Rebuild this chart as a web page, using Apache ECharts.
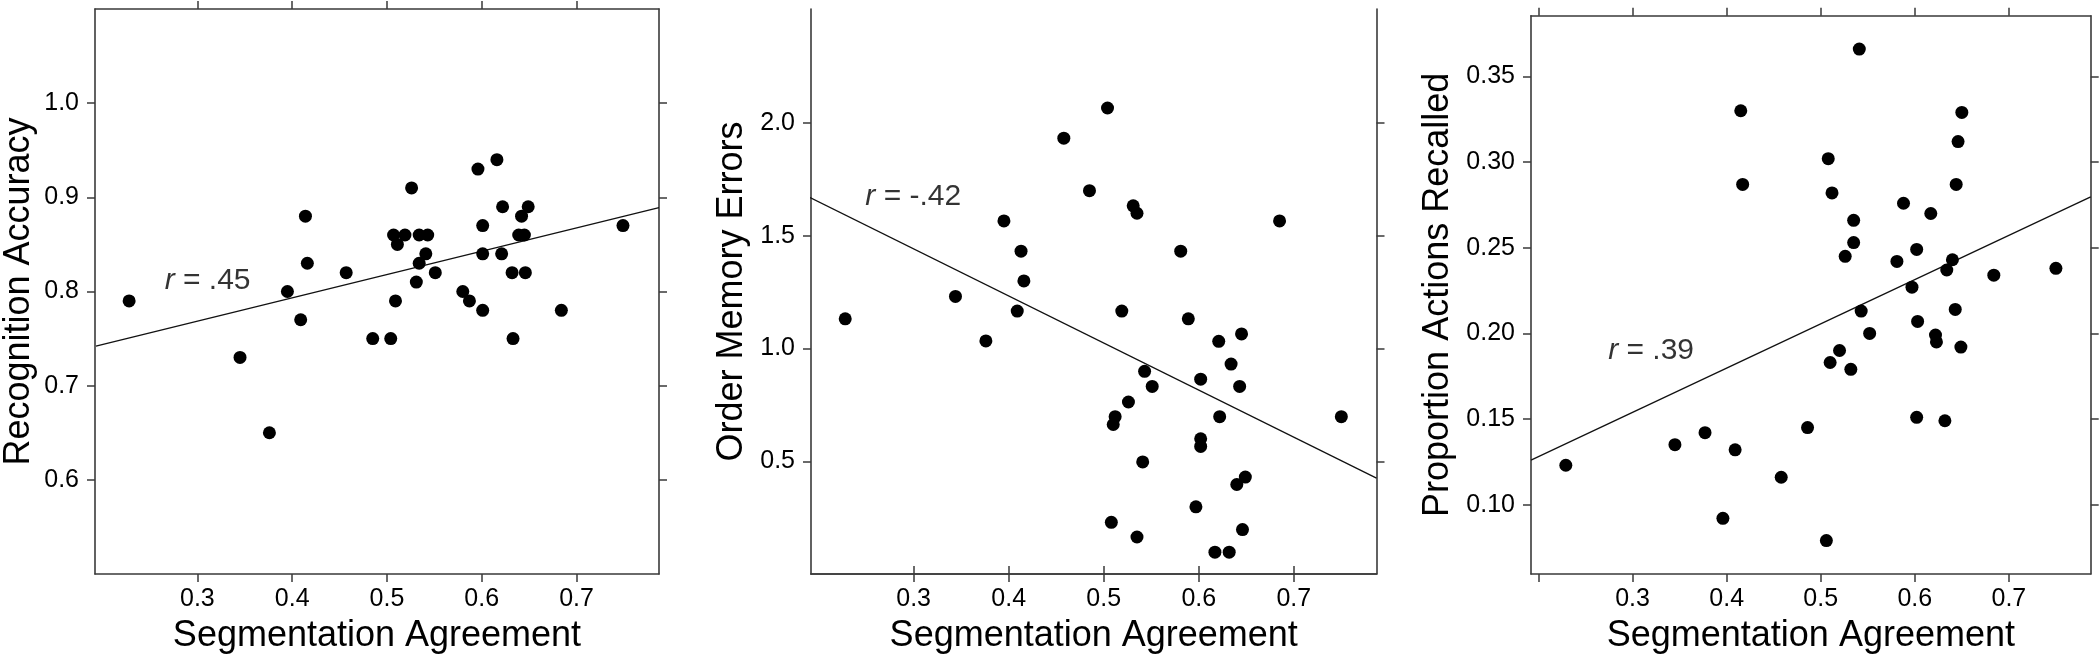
<!DOCTYPE html>
<html>
<head>
<meta charset="utf-8">
<script src="https://cdn.jsdelivr.net/npm/echarts@6/dist/echarts.min.js"></script>
<style>
html,body{margin:0;padding:0;background:#fff;}
#chart{width:2100px;height:659px;}
</style>
</head>
<body>
<div id="chart"></div>
<script>
// ---- data ----
const xTickValues = [0.3, 0.4, 0.5, 0.6, 0.7];
const xTickValues3 = [0.2, 0.3, 0.4, 0.5, 0.6, 0.7];
const yTicksRecog = [0.6, 0.7, 0.8, 0.9, 1.0];
const yTicksOrder = [0.5, 1.0, 1.5, 2.0];
const yTicksRecall = [0.10, 0.15, 0.20, 0.25, 0.30, 0.35];

const segRecog = [0.228,0.345,0.376,0.395,0.409,0.414,0.416,0.457,0.485,0.504,0.507,0.509,0.511,0.519,0.526,0.531,0.534,0.534,0.541,0.543,0.551,0.580,0.587,0.596,0.601,0.601,0.601,0.616,0.621,0.622,0.632,0.633,0.639,0.642,0.645,0.646,0.649,0.684,0.749];
const recogAccuracy = [0.79,0.73,0.65,0.80,0.77,0.88,0.83,0.82,0.75,0.75,0.86,0.79,0.85,0.86,0.91,0.81,0.86,0.83,0.84,0.86,0.82,0.80,0.79,0.93,0.78,0.87,0.84,0.94,0.84,0.89,0.82,0.75,0.86,0.88,0.86,0.82,0.89,0.78,0.87];

const segOrder = [0.228,0.344,0.376,0.395,0.409,0.413,0.416,0.458,0.485,0.504,0.508,0.510,0.512,0.519,0.526,0.531,0.535,0.535,0.541,0.543,0.551,0.581,0.589,0.597,0.602,0.602,0.602,0.617,0.621,0.622,0.632,0.634,0.640,0.643,0.645,0.646,0.649,0.685,0.750];
const orderErrors = [1.132,1.231,1.034,1.566,1.166,1.432,1.300,1.933,1.700,2.067,0.229,0.663,0.698,1.166,0.763,1.633,1.600,0.164,0.497,0.899,0.832,1.432,1.132,0.298,0.864,0.600,0.566,0.097,1.032,0.698,0.097,0.931,0.397,0.832,1.065,0.197,0.430,1.566,0.698];

const segRecall = [0.229,0.345,0.377,0.396,0.409,0.415,0.417,0.458,0.486,0.506,0.508,0.510,0.512,0.520,0.526,0.532,0.535,0.535,0.541,0.543,0.552,0.581,0.588,0.597,0.602,0.603,0.602,0.617,0.622,0.623,0.632,0.634,0.640,0.643,0.644,0.646,0.649,0.650,0.684,0.750];
const propRecalled = [0.123,0.135,0.142,0.092,0.132,0.330,0.287,0.116,0.145,0.079,0.302,0.183,0.282,0.190,0.245,0.179,0.266,0.253,0.366,0.213,0.200,0.242,0.276,0.227,0.249,0.207,0.151,0.270,0.199,0.195,0.149,0.237,0.243,0.214,0.287,0.312,0.192,0.329,0.234,0.238];

// fitted regression line endpoints [x, y]
const fitRecog = [[0.193, 0.742], [0.787, 0.889]];
const fitOrder = [[0.191, 1.670], [0.787, 0.425]];
const fitRecall = [[0.192, 0.126], [0.787, 0.2797]];

const rLabels = ['.45', '-.42', '.39'];
const xTitle = 'Segmentation Agreement';
const yTitles = ['Recognition Accuracy', 'Order Memory Errors', 'Proportion Actions Recalled'];

// ---- layout ----
const FONT = "'Liberation Sans', Arial, Helvetica, sans-serif";
const AX = '#3a3a3a';
const TITLE_FS = 36, TICK_FS = 25, ANN_FS = 30;
const panels = [
  {grid:{left:93.7, top:9, width:565.3, height:565}, x:segRecog, y:recogAccuracy, fit:fitRecog,
   ymin:0.5, ymax:1.1, yticks:yTicksRecog, dec:1, xt:xTickValues, ann:[0.2655, 0.8117], yGap:58},
  {grid:{left:811, top:9, width:565.5, height:565}, x:segOrder, y:orderErrors, fit:fitOrder,
   ymin:0.0, ymax:2.506, yticks:yTicksOrder, dec:1, xt:xTickValues, ann:[0.2492, 1.674], yGap:61},
  {grid:{left:1531, top:15.7, width:559.7, height:559.3}, x:segRecall, y:propRecalled, fit:fitRecall,
   ymin:0.0595, ymax:0.3855, yticks:yTicksRecall, dec:2, xt:xTickValues3, ann:[0.274, 0.190], yGap:75}
];
const XMIN = 0.192, XMAX = 0.787;

const grids = [], xAxes = [], yAxes = [], series = [];
panels.forEach((p, i) => {
  grids.push(Object.assign({containLabel:false}, p.grid));
  const line = {show:true, lineStyle:{color:AX, width:1.6}};
  const tick = (vals) => ({show:true, inside:false, length:8, customValues:vals, lineStyle:{color:AX, width:1.5}});
  xAxes.push({
    gridIndex:i, type:'value', position:'bottom', min:XMIN, max:XMAX,
    axisLine:line, axisTick:tick(p.xt), splitLine:{show:false},
    axisLabel:{customValues:xTickValues, formatter:v=>v.toFixed(1), fontSize:TICK_FS, color:'#000', fontFamily:FONT, margin:13},
    name:xTitle, nameLocation:'middle', nameGap:44,
    nameTextStyle:{fontSize:TITLE_FS, color:'#000', fontFamily:FONT}
  });
  xAxes.push({
    gridIndex:i, type:'value', position:'top', min:XMIN, max:XMAX,
    axisLine:line, axisTick:tick(p.xt), splitLine:{show:false}, axisLabel:{show:false}
  });
  yAxes.push({
    gridIndex:i, type:'value', position:'left', min:p.ymin, max:p.ymax,
    axisLine:line, axisTick:tick(p.yticks), splitLine:{show:false},
    axisLabel:{customValues:p.yticks, formatter:v=>v.toFixed(p.dec), fontSize:TICK_FS, color:'#000', fontFamily:FONT, margin:16},
    name:yTitles[i], nameLocation:'middle', nameGap:p.yGap,
    nameTextStyle:{fontSize:TITLE_FS, color:'#000', fontFamily:FONT}
  });
  yAxes.push({
    gridIndex:i, type:'value', position:'right', min:p.ymin, max:p.ymax,
    axisLine:line, axisTick:tick(p.yticks), splitLine:{show:false}, axisLabel:{show:false}
  });
  series.push({
    type:'line', xAxisIndex:2*i, yAxisIndex:2*i, data:p.fit, symbol:'none', silent:true,
    lineStyle:{color:'#111', width:1.3}, z:2
  });
  series.push({
    type:'scatter', xAxisIndex:2*i, yAxisIndex:2*i,
    data:p.x.map((v, k) => [v, p.y[k]]),
    symbol:'circle', symbolSize:13, itemStyle:{color:'#000', opacity:1}, z:3
  });
  series.push({
    type:'scatter', xAxisIndex:2*i, yAxisIndex:2*i, data:[p.ann], symbolSize:0, silent:true,
    label:{show:true, position:'right', distance:0, formatter:'{i|r} = ' + rLabels[i],
      fontSize:ANN_FS, color:'#000', fontFamily:FONT,
      rich:{i:{fontStyle:'italic', fontSize:ANN_FS, fontFamily:FONT, color:'#000'}}}
  });
});

const chart = echarts.init(document.getElementById('chart'), null, {renderer:'canvas'});
chart.setOption({
  animation:false,
  backgroundColor:'#fff',
  grid:grids, xAxis:xAxes, yAxis:yAxes, series:series
});
</script>
</body>
</html>
